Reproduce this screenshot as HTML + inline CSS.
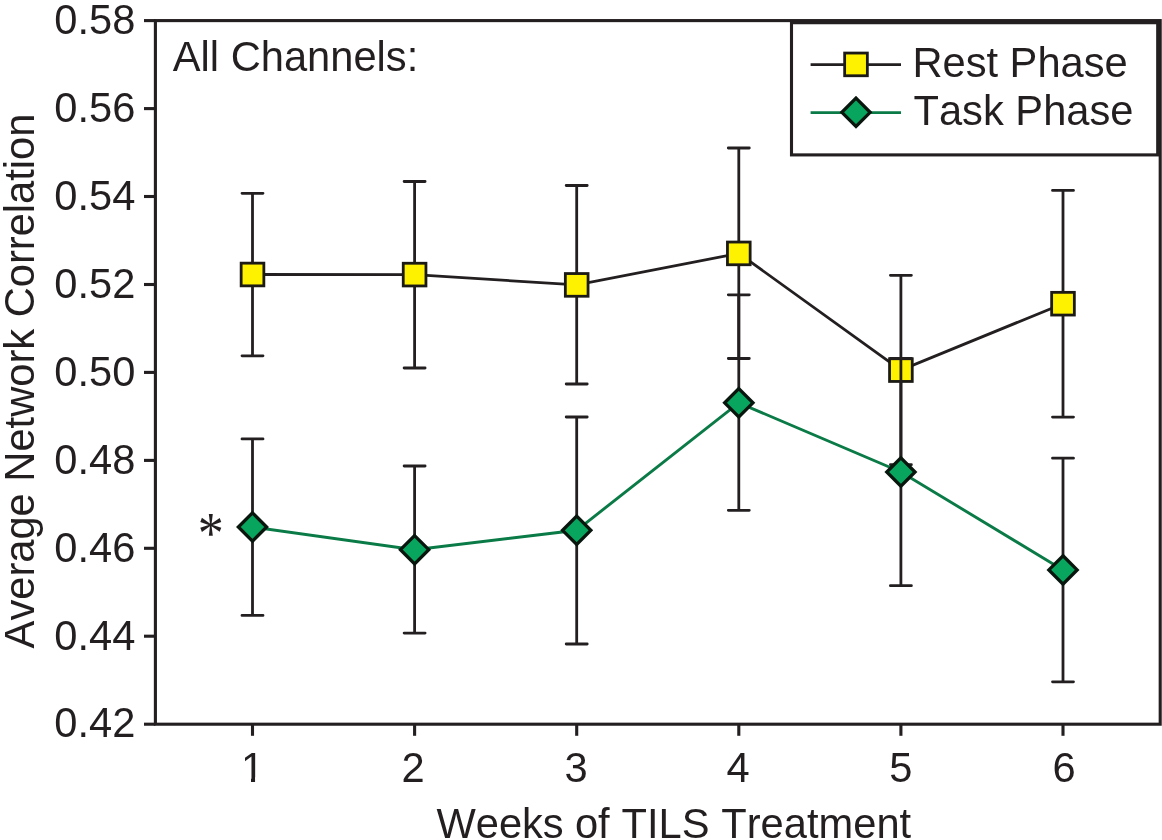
<!DOCTYPE html>
<html><head><meta charset="utf-8"><title>chart</title>
<style>html,body{margin:0;padding:0;background:#fff;}body{width:1162px;height:840px;overflow:hidden;}svg{display:block;will-change:transform;}text{font-family:"Liberation Sans",sans-serif;font-size:41.67px;fill:#231f20;font-kerning:none;}</style>
</head><body>
<svg width="1162" height="840" viewBox="0 0 1162 840">
<rect x="0" y="0" width="1162" height="840" fill="#ffffff"/>
<g id="rest">
<polyline fill="none" stroke="#231f20" stroke-width="2.80" points="252.5,274.5 414.6,274.6 576.7,284.9 738.8,253.4 900.9,370.1 1063.0,303.7"/>
<path d="M252.5 193.3V355.8M242.0 193.3H263.0M242.0 355.8H263.0" fill="none" stroke="#231f20" stroke-width="2.80" stroke-linecap="round"/>
<path d="M414.6 181.5V368.0M404.1 181.5H425.1M404.1 368.0H425.1" fill="none" stroke="#231f20" stroke-width="2.80" stroke-linecap="round"/>
<path d="M576.7 185.5V384.0M566.2 185.5H587.2M566.2 384.0H587.2" fill="none" stroke="#231f20" stroke-width="2.80" stroke-linecap="round"/>
<path d="M738.8 148.0V358.5M728.3 148.0H749.3M728.3 358.5H749.3" fill="none" stroke="#231f20" stroke-width="2.80" stroke-linecap="round"/>
<path d="M900.9 275.3V464.7M890.4 275.3H911.4M890.4 464.7H911.4" fill="none" stroke="#231f20" stroke-width="2.80" stroke-linecap="round"/>
<path d="M1063.0 190.4V417.1M1052.5 190.4H1073.5M1052.5 417.1H1073.5" fill="none" stroke="#231f20" stroke-width="2.80" stroke-linecap="round"/>
<rect x="241.15" y="263.15" width="22.7" height="22.7" fill="#fff200" stroke="#1c1a14" stroke-width="2.80"/>
<rect x="403.25" y="263.25" width="22.7" height="22.7" fill="#fff200" stroke="#1c1a14" stroke-width="2.80"/>
<rect x="565.35" y="273.55" width="22.7" height="22.7" fill="#fff200" stroke="#1c1a14" stroke-width="2.80"/>
<rect x="727.45" y="242.05" width="22.7" height="22.7" fill="#fff200" stroke="#1c1a14" stroke-width="2.80"/>
<rect x="889.55" y="358.75" width="22.7" height="22.7" fill="#fff200" stroke="#1c1a14" stroke-width="2.80"/>
<rect x="1051.65" y="292.35" width="22.7" height="22.7" fill="#fff200" stroke="#1c1a14" stroke-width="2.80"/>
</g>
<g id="task">
<polyline fill="none" stroke="#0a7a46" stroke-width="2.90" points="252.5,527.0 414.6,549.7 576.7,530.3 738.8,402.8 900.9,472.0 1063.0,569.9"/>
<path d="M252.5 438.9V615.4M242.0 438.9H263.0M242.0 615.4H263.0" fill="none" stroke="#231f20" stroke-width="2.80" stroke-linecap="round"/>
<path d="M414.6 466.0V633.1M404.1 466.0H425.1M404.1 633.1H425.1" fill="none" stroke="#231f20" stroke-width="2.80" stroke-linecap="round"/>
<path d="M576.7 417.0V644.0M566.2 417.0H587.2M566.2 644.0H587.2" fill="none" stroke="#231f20" stroke-width="2.80" stroke-linecap="round"/>
<path d="M738.8 294.8V510.3M728.3 294.8H749.3M728.3 510.3H749.3" fill="none" stroke="#231f20" stroke-width="2.80" stroke-linecap="round"/>
<path d="M900.9 358.3V585.7M890.4 358.3H911.4M890.4 585.7H911.4" fill="none" stroke="#231f20" stroke-width="2.80" stroke-linecap="round"/>
<path d="M1063.0 458.2V681.8M1052.5 458.2H1073.5M1052.5 681.8H1073.5" fill="none" stroke="#231f20" stroke-width="2.80" stroke-linecap="round"/>
<path d="M252.50 512.85L266.65 527.00L252.50 541.15L238.35 527.00Z" fill="#08a55f" stroke="#08160e" stroke-width="3.3" stroke-linejoin="miter"/>
<path d="M414.60 535.55L428.75 549.70L414.60 563.85L400.45 549.70Z" fill="#08a55f" stroke="#08160e" stroke-width="3.3" stroke-linejoin="miter"/>
<path d="M576.70 516.15L590.85 530.30L576.70 544.45L562.55 530.30Z" fill="#08a55f" stroke="#08160e" stroke-width="3.3" stroke-linejoin="miter"/>
<path d="M738.80 388.65L752.95 402.80L738.80 416.95L724.65 402.80Z" fill="#08a55f" stroke="#08160e" stroke-width="3.3" stroke-linejoin="miter"/>
<path d="M900.90 457.85L915.05 472.00L900.90 486.15L886.75 472.00Z" fill="#08a55f" stroke="#08160e" stroke-width="3.3" stroke-linejoin="miter"/>
<path d="M1063.00 555.75L1077.15 569.90L1063.00 584.05L1048.85 569.90Z" fill="#08a55f" stroke="#08160e" stroke-width="3.3" stroke-linejoin="miter"/>
</g>
<g id="frame" fill="none" stroke="#231f20" stroke-width="3.1">
<rect x="155.4" y="20.6" width="1004.8" height="703.6"/>
<path d="M144 20.6H155.4"/>
<path d="M144 108.6H155.4"/>
<path d="M144 196.5H155.4"/>
<path d="M144 284.5H155.4"/>
<path d="M144 372.4H155.4"/>
<path d="M144 460.4H155.4"/>
<path d="M144 548.3H155.4"/>
<path d="M144 636.2H155.4"/>
<path d="M144 724.2H155.4"/>
<path d="M252.5 724.2V735.8"/>
<path d="M414.6 724.2V735.8"/>
<path d="M576.7 724.2V735.8"/>
<path d="M738.8 724.2V735.8"/>
<path d="M900.9 724.2V735.8"/>
<path d="M1063.0 724.2V735.8"/>
</g>
<text x="135.3" y="33.8" text-anchor="end">0.58</text>
<text x="135.3" y="121.8" text-anchor="end">0.56</text>
<text x="135.3" y="209.7" text-anchor="end">0.54</text>
<text x="135.3" y="297.7" text-anchor="end">0.52</text>
<text x="135.3" y="385.6" text-anchor="end">0.50</text>
<text x="135.3" y="473.6" text-anchor="end">0.48</text>
<text x="135.3" y="561.5" text-anchor="end">0.46</text>
<text x="135.3" y="649.5" text-anchor="end">0.44</text>
<text x="135.3" y="737.4" text-anchor="end">0.42</text>
<text x="252.5" y="782.2" text-anchor="middle">1</text>
<text x="413.1" y="782.2" text-anchor="middle">2</text>
<text x="576.0" y="782.2" text-anchor="middle">3</text>
<text x="738.1" y="782.2" text-anchor="middle">4</text>
<text x="900.9" y="782.2" text-anchor="middle">5</text>
<text x="1064.0" y="782.2" text-anchor="middle">6</text>
<rect x="242.5" y="777.4" width="8.5" height="6" fill="#ffffff"/>
<rect x="255.05" y="777.4" width="8.5" height="6" fill="#ffffff"/>
<text x="436.4" y="838">Weeks</text>
<text x="574.9" y="838">of</text>
<text x="621.6" y="838">TILS</text>
<text x="721.3" y="838">Treatment</text>
<text transform="translate(33.8 648.4) rotate(-90)">Average Network Correlation</text>
<text x="172.8" y="71.2">All Channels:</text>
<text transform="translate(210.8 552.5) scale(0.93 1.074)" x="0" y="0" text-anchor="middle" style="font-family:'Liberation Serif',serif;font-size:56px">*</text>
<g id="legend">
<rect x="791.5" y="22.7" width="366.2" height="132.2" fill="#ffffff" stroke="#231f20" stroke-width="3.1"/>
<path d="M810.6 64.6H901" stroke="#231f20" stroke-width="2.80" fill="none"/>
<rect x="844.65" y="53.05" width="22.7" height="22.7" fill="#fff200" stroke="#1c1a14" stroke-width="2.80"/>
<path d="M810.6 112.7H901" stroke="#0a7a46" stroke-width="2.80" fill="none"/>
<path d="M856.00 98.15L870.15 112.30L856.00 126.45L841.85 112.30Z" fill="#08a55f" stroke="#08160e" stroke-width="3.3" stroke-linejoin="miter"/>
<text x="912.4" y="77.4">Rest Phase</text>
<text x="913.5" y="125">Task Phase</text>
</g>
</svg></body></html>
